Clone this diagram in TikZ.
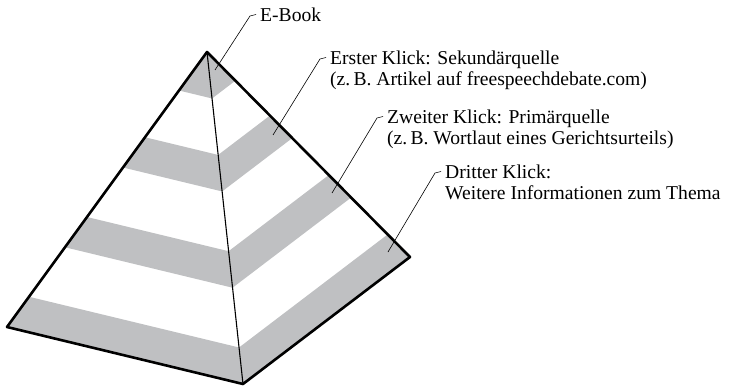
\documentclass[tikz,border=0pt]{standalone}
\usepackage{fontspec}
\setmainfont{Liberation Serif}
\usetikzlibrary{calc}
\definecolor{bandgray}{RGB}{191,192,194}
\begin{document}
\begin{tikzpicture}[x=1pt,y=-1pt,
        outline/.style={line width=2.6pt,line join=round},
        ridge/.style={line width=1.1pt},
        leader/.style={line width=0.6pt},
        label node/.style={anchor=north west,inner sep=0pt,align=left,font=\fontsize{19.6}{20.5}\selectfont}]
    \useasboundingbox (0,0) rectangle (732,388);
    \coordinate (apex) at (207,52);
    \coordinate (left) at (7,327);
    \coordinate (front) at (243,384);
    \coordinate (right) at (410,257);

    % grey levels
    \foreach \ta/\tb in {0/0.14, 0.31/0.42, 0.60/0.71, 0.89/1}{
        \fill[bandgray] ($(apex)!\ta!(left)$) -- ($(apex)!\ta!(front)$) -- ($(apex)!\tb!(front)$) -- ($(apex)!\tb!(left)$) -- cycle;
        \fill[bandgray] ($(apex)!\ta!(front)$) -- ($(apex)!\ta!(right)$) -- ($(apex)!\tb!(right)$) -- ($(apex)!\tb!(front)$) -- cycle;
    }
    \draw[outline] (apex) -- (left) -- (front) -- (right) -- cycle;
    \draw[ridge] (apex) -- (front);

    \node[label node] at (260,8) (ebook) {E-Book};
    \node[label node] at (330,51) (first) {Erster Klick: Sekundärquelle\\(z.\,B. Artikel auf freespeechdebate.com)};
    \node[label node] at (387,110) (second) {Zweiter Klick: Primärquelle\\(z.\,B. Wortlaut eines Gerichtsurteils)};
    \node[label node] at (445,165) (third) {Dritter Klick:\\Weitere Informationen zum Thema};

    \coordinate (p ebook) at (215,70);
    \coordinate (p first) at (273,135);
    \coordinate (p second) at (332,193);
    \coordinate (p third) at (388,252);

    % leaders with a small hook
    \foreach \n in {ebook,first,second,third}
        \draw[leader] (p \n) -- ([xshift=-10pt,yshift=-8pt]\n.north west) -- ([xshift=-4pt,yshift=-6.5pt]\n.north west);
\end{tikzpicture}
\end{document}
